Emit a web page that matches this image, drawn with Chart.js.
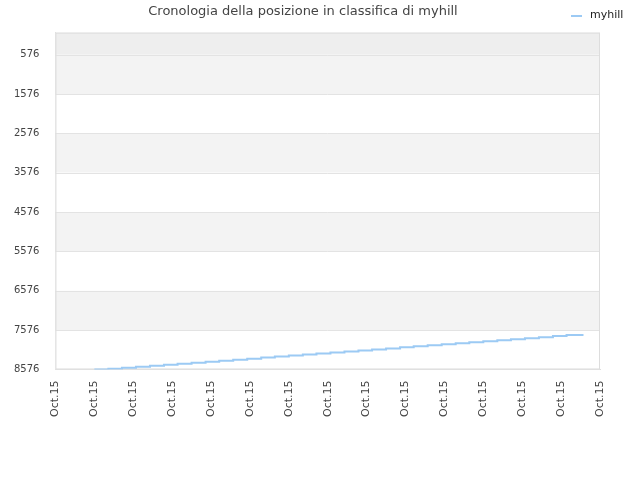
<!DOCTYPE html>
<html><head><meta charset="utf-8">
<script src="https://cdn.jsdelivr.net/npm/chart.js@4"></script>
<style>body{margin:0;background:#fff}</style>
</head><body><canvas id="c" width="640" height="480"></canvas>
<script>
const xTickLabels = ["Oct.15","Oct.15","Oct.15","Oct.15","Oct.15","Oct.15","Oct.15","Oct.15","Oct.15","Oct.15","Oct.15","Oct.15","Oct.15","Oct.15","Oct.15"];
const yTicks = [576,1576,2576,3576,4576,5576,6576,7576,8576];
const xPos = [1.00,1.36,1.71,2.07,2.43,2.79,3.14,3.50,3.86,4.21,4.57,4.93,5.29,5.64,6.00,6.36,6.71,7.07,7.43,7.79,8.14,8.50,8.86,9.21,9.57,9.93,10.29,10.64,11.00,11.36,11.71,12.07,12.43,12.79,13.14,13.55];
const ranks = [8576,8560,8534,8508,8482,8456,8430,8404,8378,8352,8326,8300,8274,8248,8222,8196,8170,8144,8118,8092,8066,8040,8014,7988,7962,7936,7910,7884,7858,7832,7806,7780,7754,7728,7702,7676];
const seriesName = 'myhill';

const bands = {
  id:'bands',
  beforeDatasetsDraw(ch){
    const {ctx, chartArea:a, scales:{y}} = ch;
    ctx.save();
    ctx.fillStyle='#eeeeee';
    ctx.fillRect(a.left, a.top, a.right-a.left, y.getPixelForValue(yTicks[0])-a.top);
    for(let i=0;i<yTicks.length-1;i++){
      ctx.fillStyle = i%2===0 ? '#f3f3f3' : '#ffffff';
      const t=y.getPixelForValue(yTicks[i]), b=y.getPixelForValue(yTicks[i+1]);
      ctx.fillRect(a.left,t,a.right-a.left,b-t);
    }
    ctx.strokeStyle='#e3e3e3';ctx.lineWidth=1;
    yTicks.forEach(v=>{const p=Math.round(y.getPixelForValue(v))+0.5;ctx.beginPath();ctx.moveTo(a.left,p);ctx.lineTo(a.right,p);ctx.stroke();});
    ctx.strokeStyle='#dddddd';
    ctx.strokeRect(a.left+0.5,a.top+0.5,a.right-a.left-1,a.bottom-a.top-1);
    ctx.restore();
  },
  afterDraw(ch){
    const ctx=ch.ctx;ctx.save();
    ctx.strokeStyle='#9ccaf4';ctx.lineWidth=2;
    ctx.beginPath();ctx.moveTo(571,16);ctx.lineTo(582,16);ctx.stroke();
    ctx.fillStyle='#222';ctx.font='11px "DejaVu Sans"';ctx.textBaseline='middle';
    ctx.fillText(seriesName,590,15);
    ctx.restore();
  }
};

new Chart(document.getElementById('c'),{
  type:'line',
  data:{datasets:[{label:seriesName,data:xPos.map((x,i)=>({x,y:ranks[i]})),borderColor:'#9ccaf4',borderWidth:2,pointRadius:0,stepped:true,fill:false}]},
  options:{
    responsive:false,animation:false,
    layout:{padding:{left:6,right:40,top:0,bottom:60}},
    plugins:{
      title:{display:true,text:'Cronologia della posizione in classifica di myhill',color:'#444',font:{family:'DejaVu Sans',size:13,weight:'normal'},padding:{top:4,bottom:13}},
      legend:{display:false}
    },
    scales:{
      x:{type:'linear',min:0,max:14,afterBuildTicks(s){s.ticks=xTickLabels.map((_,i)=>({value:i}));},
         ticks:{autoSkip:false,callback:(v,i)=>xTickLabels[i],maxRotation:90,minRotation:90,color:'#444',font:{family:'DejaVu Sans',size:11}},
         grid:{display:false},border:{color:'#dddddd'}},
      y:{reverse:true,min:15,max:8576,afterBuildTicks(s){s.ticks=yTicks.map(v=>({value:v}));},
         ticks:{autoSkip:false,callback:v=>String(v),color:'#444',font:{family:'DejaVu Sans',size:10},padding:8},
         grid:{display:false},border:{color:'#dddddd'}}
    }
  },
  plugins:[bands]
});
</script></body></html>
